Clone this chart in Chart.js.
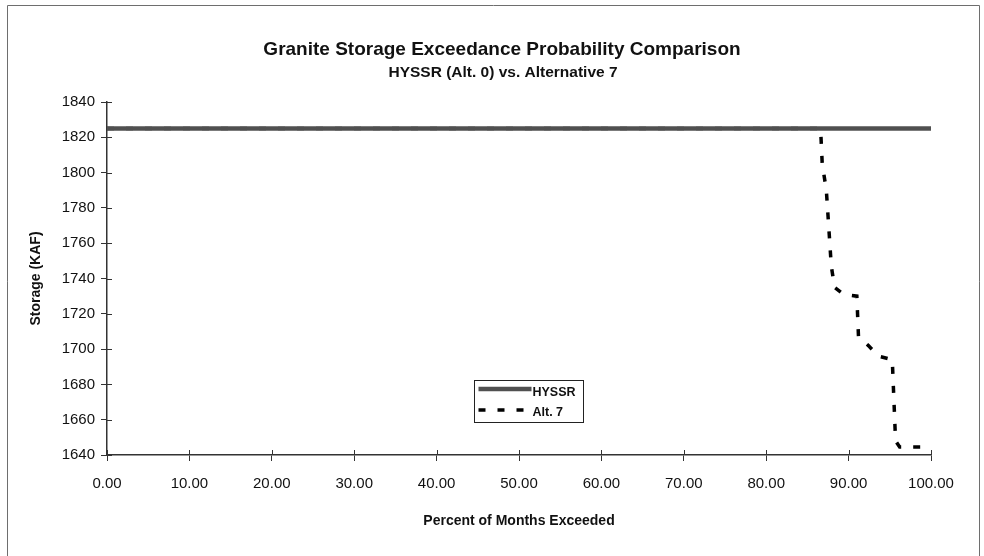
<!DOCTYPE html>
<html>
<head>
<meta charset="utf-8">
<title>Granite Storage Exceedance Probability Comparison</title>
<script src="https://cdn.jsdelivr.net/npm/chart.js@4.4.0/dist/chart.umd.min.js"></script>
<style>
    html, body { margin: 0; padding: 0; background: #ffffff; }
    #wrap { width: 984px; height: 556px; }
</style>
</head>
<body>
<div id="wrap"><canvas id="storageChart" width="984" height="556"></canvas></div>
<script>
// Values
const hyssrPercent = [0, 100];
const hyssrStorage = [1825, 1825];

const alt7Percent = [0, 86.6, 86.8, 87.3, 87.9, 88.3, 89.4, 91.0, 91.2, 92.4, 93.6, 95.3, 95.7, 96.2, 100];
const alt7Storage = [1825, 1825, 1805, 1790, 1747, 1735, 1731, 1730, 1707, 1702, 1696, 1694, 1648, 1644.5, 1644.5];

const seriesNames = ['HYSSR', 'Alt. 7'];
const chartTitle = 'Granite Storage Exceedance Probability Comparison';
const chartSubtitle = 'HYSSR (Alt. 0) vs. Alternative 7';
const xAxisTitle = 'Percent of Months Exceeded';
const yAxisTitle = 'Storage (KAF)';

const FONT = "'Liberation Sans', Arial, Helvetica, sans-serif";

function toPoints(xs, ys) {
    return xs.map((x, i) => ({ x: x, y: ys[i] }));
}

// Frame, titles, inner tick stubs and the boxed legend inside the plot
const decorations = {
    id: 'decorations',
    afterDraw(chart) {
        const ctx = chart.ctx;
        const area = chart.chartArea;
        ctx.save();

        // outer frame (left, top, right)
        ctx.strokeStyle = '#6e6e6e';
        ctx.lineWidth = 1;
        ctx.beginPath();
        ctx.moveTo(7.5, 560);
        ctx.lineTo(7.5, 5.5);
        ctx.lineTo(979.5, 5.5);
        ctx.lineTo(979.5, 560);
        ctx.stroke();

        // titles
        ctx.fillStyle = '#111';
        ctx.textAlign = 'center';
        ctx.textBaseline = 'alphabetic';
        ctx.font = 'bold 19px ' + FONT;
        ctx.fillText(chartTitle, 502, 55);
        ctx.font = 'bold 15.5px ' + FONT;
        ctx.fillText(chartSubtitle, 503, 77);

        // tick marks crossing into the plot
        ctx.strokeStyle = '#333';
        ctx.lineWidth = 1;
        const xs = chart.scales.x;
        xs.ticks.forEach(t => {
            const px = Math.round(xs.getPixelForValue(t.value)) + 0.5;
            ctx.beginPath();
            ctx.moveTo(px, area.bottom);
            ctx.lineTo(px, area.bottom - 5);
            ctx.stroke();
        });
        const ys = chart.scales.y;
        ys.ticks.forEach(t => {
            const py = Math.round(ys.getPixelForValue(t.value)) + 0.5;
            ctx.beginPath();
            ctx.moveTo(area.left, py);
            ctx.lineTo(area.left + 5, py);
            ctx.stroke();
        });

        // legend box
        const box = { x: 474.5, y: 380.5, w: 109, h: 42 };
        ctx.fillStyle = '#ffffff';
        ctx.fillRect(box.x, box.y, box.w, box.h);
        ctx.strokeStyle = '#222';
        ctx.lineWidth = 1;
        ctx.strokeRect(box.x, box.y, box.w, box.h);

        const rows = [389, 410];
        chart.data.datasets.forEach((ds, i) => {
            ctx.save();
            ctx.strokeStyle = ds.borderColor;
            ctx.lineWidth = ds.borderWidth;
            ctx.setLineDash(ds.borderDash || []);
            ctx.beginPath();
            ctx.moveTo(box.x + 4, rows[i]);
            ctx.lineTo(i === 0 ? box.x + 57 : box.x + 50, rows[i]);
            ctx.stroke();
            ctx.restore();

            ctx.fillStyle = '#111';
            ctx.textAlign = 'left';
            ctx.textBaseline = 'middle';
            ctx.font = 'bold 12.5px ' + FONT;
            ctx.fillText(ds.label, box.x + 58, rows[i] + (i === 0 ? 4 : 3));
        });

        ctx.restore();
    }
};

function initStorageChart() {
    const canvas = document.getElementById('storageChart');
    if (!canvas) {
        console.error('Storage chart canvas not found');
        return;
    }

    Chart.defaults.font.family = FONT;
    Chart.defaults.color = '#111';

    new Chart(canvas.getContext('2d'), {
        type: 'line',
        data: {
            datasets: [
                {
                    label: seriesNames[0],
                    data: toPoints(hyssrPercent, hyssrStorage),
                    borderColor: '#505050',
                    borderWidth: 4.5,
                    pointRadius: 0,
                    tension: 0,
                    fill: false
                },
                {
                    label: seriesNames[1],
                    data: toPoints(alt7Percent, alt7Storage),
                    borderColor: '#000000',
                    borderWidth: 3.5,
                    borderDash: [7, 12],
                    borderCapStyle: 'butt',
                    pointRadius: 0,
                    tension: 0,
                    fill: false
                }
            ]
        },
        options: {
            responsive: false,
            animation: false,
            devicePixelRatio: 1,
            layout: {
                padding: { left: 7, right: 53, top: 102, bottom: 0 }
            },
            plugins: {
                legend: { display: false },
                tooltip: { enabled: false },
                title: { display: false }
            },
            scales: {
                x: {
                    type: 'linear',
                    min: 0,
                    max: 100,
                    afterFit: function(scale) { scale.height = 101; },
                    ticks: {
                        stepSize: 10,
                        padding: 14,
                        maxRotation: 0,
                        font: { size: 15 },
                        callback: function(value) {
                            return value.toFixed(2);
                        }
                    },
                    grid: {
                        drawOnChartArea: false,
                        drawTicks: true,
                        tickLength: 6,
                        color: '#333'
                    },
                    border: { display: true, color: '#333', width: 1.5 },
                    title: {
                        display: true,
                        text: xAxisTitle,
                        font: { size: 14, weight: 'bold' },
                        padding: { top: 0, bottom: 26 }
                    }
                },
                y: {
                    type: 'linear',
                    min: 1640,
                    max: 1840,
                    afterFit: function(scale) { scale.width = 100; },
                    ticks: {
                        stepSize: 20,
                        padding: 6,
                        font: { size: 15 },
                        callback: function(value) {
                            return String(value);
                        }
                    },
                    grid: {
                        drawOnChartArea: false,
                        drawTicks: true,
                        tickLength: 6,
                        color: '#333'
                    },
                    border: { display: true, color: '#333', width: 1.5 },
                    title: {
                        display: true,
                        text: yAxisTitle,
                        font: { size: 14, weight: 'bold' },
                        padding: { top: 21, bottom: 0 }
                    }
                }
            }
        },
        plugins: [decorations]
    });
}

if (document.readyState === 'loading') {
    document.addEventListener('DOMContentLoaded', initStorageChart);
} else {
    initStorageChart();
}
</script>
</body>
</html>
